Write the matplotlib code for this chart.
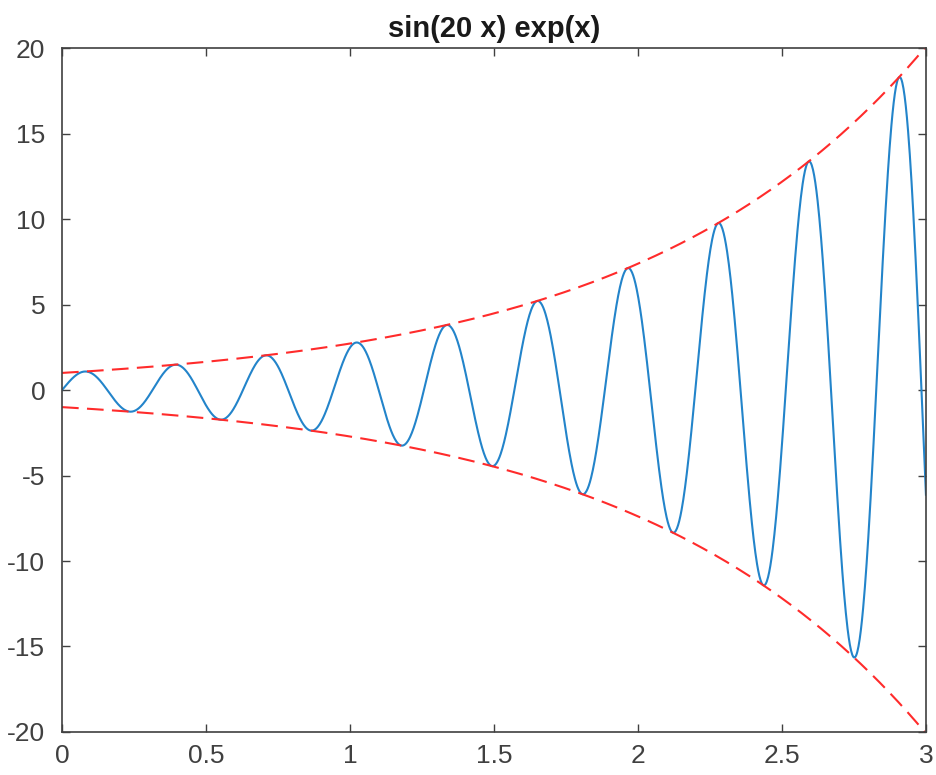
import numpy as np
import matplotlib
matplotlib.use("Agg")
import matplotlib.pyplot as plt

# function plot: title gives the curve, sin(20 x) exp(x), envelope +/- exp(x)
x_start, x_stop, n_pts = 0.0, 3.0, 1500
freq = 20
x_ticks = [0, 0.5, 1, 1.5, 2, 2.5, 3]
y_ticks = [-20, -15, -10, -5, 0, 5, 10, 15, 20]
title_text = "sin(20 x) exp(x)"

x = np.linspace(x_start, x_stop, n_pts)
y = np.sin(freq * x) * np.exp(x)
env = np.exp(x)

plt.rcParams['font.family'] = ['Liberation Sans', 'DejaVu Sans']
plt.rcParams['axes.unicode_minus'] = False
axcol = '#404040'

fig = plt.figure(figsize=(9.37, 7.75), dpi=100)
ax = fig.add_axes([0.0662, 0.0555, 0.922, 0.8825])

ax.plot(x, y, color='#2384CA', lw=1.5)
ax.plot(x, env, color='#FF2B2B', lw=1.5, ls=(0, (8, 4)))
ax.plot(x, -env, color='#FF2B2B', lw=1.5, ls=(0, (8, 4)))

ax.set_xlim(0, 3)
ax.set_ylim(-20, 20)
ax.set_xticks(x_ticks)
ax.set_xticklabels([f"{t:g}" for t in x_ticks])
ax.set_yticks(y_ticks)
ax.set_yticklabels([f"{t:g}" for t in y_ticks])
ax.tick_params(direction='in', top=True, right=True, length=6, width=1,
               color=axcol, labelcolor=axcol, labelsize=19)
ax.tick_params(axis='y', pad=12)
ax.tick_params(axis='x', pad=9)
for s in ax.spines.values():
    s.set_color(axcol)
    s.set_linewidth(1.2)

ax.set_title(title_text, fontsize=21, fontweight='bold', color='#1a1a1a', pad=8)

fig.savefig("out.png", dpi=100)
